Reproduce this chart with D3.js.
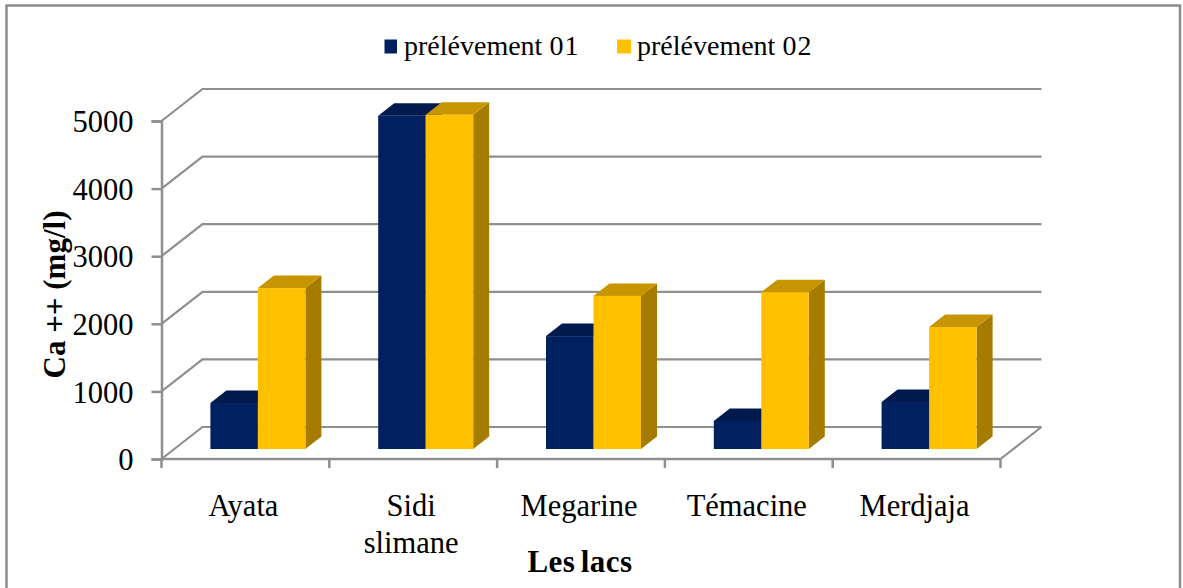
<!DOCTYPE html>
<html>
<head>
<meta charset="utf-8">
<script src="https://cdn.jsdelivr.net/npm/d3@7"></script>
<style>
  html, body { margin: 0; padding: 0; background: #fff; }
  text { font-family: "Liberation Serif", serif; fill: #000; }
</style>
</head>
<body>
<svg id="chart" width="1183" height="588"></svg>
<script>
// Calcium concentration in five lakes, two sampling campaigns
const lakes = ["Ayata", "Sidi slimane", "Megarine", "Témacine", "Merdjaja"];
const lakeLines = [["Ayata"], ["Sidi", "slimane"], ["Megarine"], ["Témacine"], ["Merdjaja"]];
const prelevement01 = [680, 4930, 1670, 415, 695];
const prelevement02 = [2380, 4945, 2265, 2320, 1805];
const seriesWords = ["prélévement", "prélévement"];
const seriesNumbers = ["01", "02"];
const yTicks = [0, 1000, 2000, 3000, 4000, 5000];

const colors = [
  { front: "#002060", top: "#001a4d", side: "#001640" },
  { front: "#ffc000", top: "#c79500", side: "#a67c00" }
];
const axisGrey = "#8f8f8f";

const svg = d3.select("#chart");

// Plot frame: front plane of the 3D box and the offset to its back wall
const left = 161.5, right = 1000.5, baseY = 459, topY = 121;
const wallDx = 41, wallDy = -32;      // front edge to back wall
const barDx = 12.5, barDy = -10;      // front edge to bar face
const barDepthX = 16, barDepthY = -12.5;

const x = d3.scaleBand().domain(lakes).range([left, right]).paddingInner(0).paddingOuter(0);
const y = d3.scaleLinear().domain([0, 5000]).range([baseY, topY]);
const barWidth = 47.5;

// Chart border
svg.append("rect")
  .attr("x", 6.5).attr("y", 5.5).attr("width", 1173.5).attr("height", 600)
  .attr("fill", "none").attr("stroke", "#8c8c8c").attr("stroke-width", 2.5);

// Back wall gridlines with their slanted run along the side wall
svg.append("g").selectAll("path").data(yTicks).join("path")
  .attr("d", d => d3.line()([
    [left, y(d)],
    [left + wallDx, y(d) + wallDy],
    [right + wallDx, y(d) + wallDy]
  ]))
  .attr("fill", "none")
  .attr("stroke", axisGrey)
  .attr("stroke-width", 2.2);

// Right edge of the floor
svg.append("path")
  .attr("d", d3.line()([[right, baseY], [right + wallDx, baseY + wallDy]]))
  .attr("fill", "none").attr("stroke", axisGrey).attr("stroke-width", 2.2);

// Value axis
const yAxis = svg.append("g")
  .attr("transform", `translate(${left},0)`)
  .call(d3.axisLeft(y).tickValues(yTicks).tickSize(10).tickPadding(18).tickFormat(d3.format("d")));
yAxis.select(".domain").attr("stroke", axisGrey).attr("stroke-width", 2.5);
yAxis.selectAll(".tick line").attr("stroke", axisGrey).attr("stroke-width", 2.5);
yAxis.selectAll(".tick text")
  .attr("y", 1)
  .attr("font-size", 30.5)
  .attr("font-family", "Liberation Serif")
  .attr("fill", "#000");

// Category axis: ticks sit on band boundaries, labels are drawn separately
const xEdges = lakes.map(d => x(d)).concat(right);
const xAxisLine = svg.append("g");
xAxisLine.append("line")
  .attr("x1", left).attr("x2", right).attr("y1", baseY).attr("y2", baseY)
  .attr("stroke", axisGrey).attr("stroke-width", 2.5);
xAxisLine.selectAll(".edge").data(xEdges).join("line")
  .attr("class", "edge")
  .attr("x1", d => d).attr("x2", d => d)
  .attr("y1", baseY).attr("y2", baseY + 9)
  .attr("stroke", axisGrey).attr("stroke-width", 2.5);

// Extruded bars, drawn back to front within each lake
function barPaths(g, value, xLeft, c) {
  const x0 = xLeft, x1 = xLeft + barWidth;
  const yTop = y(value) + barDy, yBase = y(0) + barDy;
  const line = d3.line();
  g.append("path").attr("fill", c.side).attr("d", line([
    [x1, yTop], [x1 + barDepthX, yTop + barDepthY],
    [x1 + barDepthX, yBase + barDepthY], [x1, yBase]
  ]) + "Z");
  g.append("path").attr("fill", c.top).attr("d", line([
    [x0, yTop], [x0 + barDepthX, yTop + barDepthY],
    [x1 + barDepthX, yTop + barDepthY], [x1, yTop]
  ]) + "Z");
  g.append("rect").attr("fill", c.front)
    .attr("x", x0).attr("y", yTop)
    .attr("width", barWidth).attr("height", yBase - yTop);
}

const bars = svg.append("g");
lakes.forEach((lake, i) => {
  const centre = x(lake) + x.bandwidth() / 2 + barDx;
  const g = bars.append("g");
  barPaths(g, prelevement01[i], centre - barWidth, colors[0]);
  barPaths(g, prelevement02[i], centre, colors[1]);
});

// Category labels
const labels = svg.append("g").attr("text-anchor", "middle").attr("font-size", 30.5);
lakes.forEach((lake, i) => {
  const t = labels.append("text").attr("y", 516);
  lakeLines[i].forEach((part, k) => {
    t.append("tspan")
      .attr("x", x(lake) + x.bandwidth() / 2 - 2)
      .attr("dy", k === 0 ? 0 : 37)
      .text(part);
  });
});

// Axis titles
svg.append("text")
  .attr("x", 580).attr("y", 571.5)
  .attr("text-anchor", "middle")
  .attr("font-size", 31).attr("font-weight", "bold")
  .attr("letter-spacing", 0.5).attr("word-spacing", -3)
  .text("Les lacs");
svg.append("text")
  .attr("transform", "translate(65,294.5) rotate(-90)")
  .attr("text-anchor", "middle")
  .attr("font-size", 31).attr("font-weight", "bold")
  .text("Ca ++ (mg/l)");

// Legend
const legendX = [384.5, 617];
const legend = svg.append("g");
seriesWords.forEach((word, i) => {
  legend.append("rect")
    .attr("x", legendX[i]).attr("y", 39.5).attr("width", i === 0 ? 12.5 : 14).attr("height", 14)
    .attr("fill", colors[i].front);
  const label = legend.append("text")
    .attr("x", legendX[i] + (i === 0 ? 19.5 : 20)).attr("y", 55)
    .attr("font-size", 28);
  label.append("tspan").text(word + " ");
  label.append("tspan").attr("letter-spacing", 1.2).text(seriesNumbers[i]);
});
</script>
</body>
</html>
